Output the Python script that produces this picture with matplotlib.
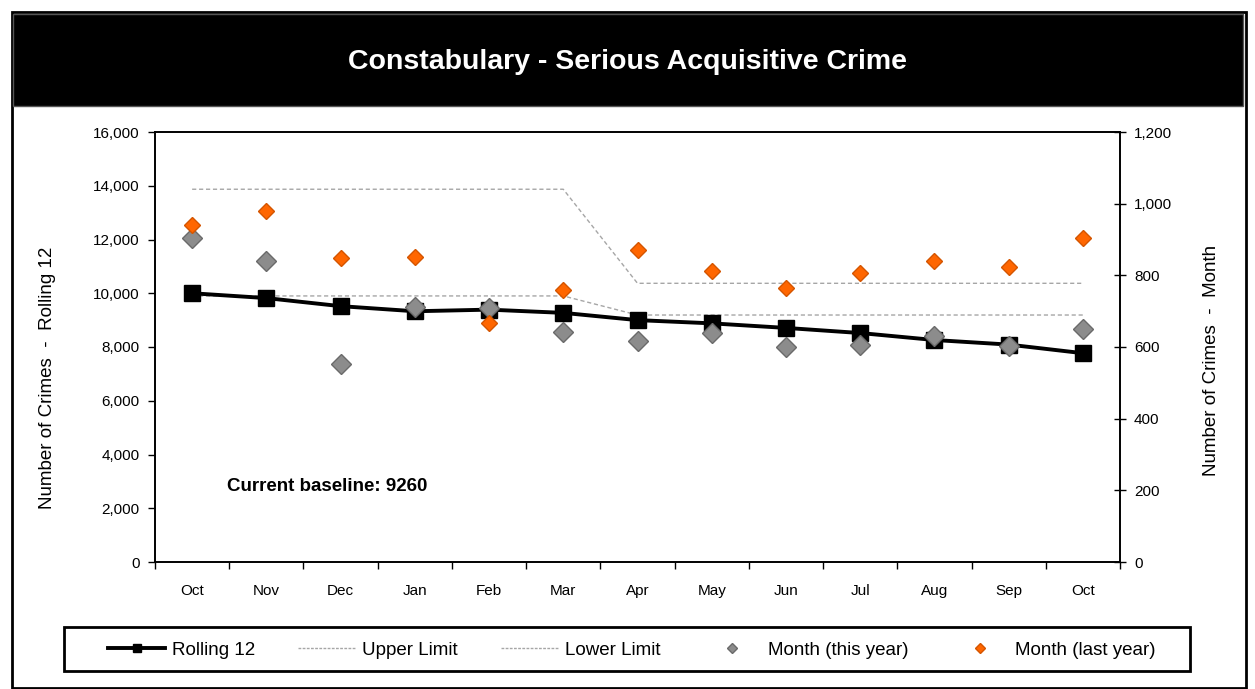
import numpy as np
import matplotlib.pyplot as plt
from matplotlib.lines import Line2D
from matplotlib.patches import Rectangle

months = ['Oct', 'Nov', 'Dec', 'Jan', 'Feb', 'Mar', 'Apr', 'May', 'Jun', 'Jul', 'Aug', 'Sep', 'Oct']
rolling12 = [10000, 9820, 9520, 9330, 9390, 9270, 9000, 8880, 8710, 8520, 8260, 8090, 7770]
upper_limit = [13870, 13870, 13870, 13870, 13870, 13870, 10370, 10370, 10370, 10370, 10370, 10370, 10370]
lower_limit = [9900, 9900, 9900, 9900, 9900, 9900, 9190, 9190, 9190, 9190, 9190, 9190, 9190]
month_this_year = [903, 841, 552, 712, 708, 641, 617, 640, 601, 606, 631, 603, 649]
month_last_year = [940, 980, 847, 852, 666, 759, 871, 812, 764, 806, 841, 822, 903]
baseline = 9260

W, H = 1255, 689
plt.rcParams['font.family'] = ['Liberation Sans', 'DejaVu Sans']

fig = plt.figure(figsize=(W / 100, H / 100), dpi=100)

# outer frame, black title band, legend box
fig.patches.append(Rectangle((12 / W, 1 - 688 / H), 1234 / W, 676 / H, transform=fig.transFigure,
                             fill=False, edgecolor='black', linewidth=2))
fig.patches.append(Rectangle((13 / W, 1 - 106 / H), 1230 / W, 92 / H, transform=fig.transFigure,
                             facecolor='black', edgecolor='#555555', linewidth=1))
fig.patches.append(Rectangle((64 / W, 1 - 671 / H), 1126 / W, 44 / H, transform=fig.transFigure,
                             fill=False, edgecolor='black', linewidth=2))
fig.text(627 / W, 1 - 62 / H, 'Constabulary - Serious Acquisitive Crime', color='white',
         fontsize=20.5, fontweight='bold', ha='center', va='center')

ax = fig.add_axes([155 / W, 1 - 562 / H, 965 / W, 430 / H])
ax2 = ax.twinx()
x = np.arange(len(months))

ax.plot(x, upper_limit, color='#a6a6a6', linewidth=1, dashes=(3, 2), zorder=2)
ax.plot(x, lower_limit, color='#a6a6a6', linewidth=1, dashes=(3, 2), zorder=2)
ax.plot(x, rolling12, color='black', linewidth=2.8, marker='s', markersize=11, zorder=3)

ax2.plot(x, month_this_year, linestyle='none', marker='D', markersize=10,
         markerfacecolor='#8c8c8c', markeredgecolor='#6a6a6a', zorder=4)
ax2.plot(x, month_last_year, linestyle='none', marker='D', markersize=8,
         markerfacecolor='#ff6600', markeredgecolor='#d45500', zorder=4)

ax.set_xlim(-0.5, len(months) - 0.5)
ax.set_ylim(0, 16000)
ax2.set_ylim(0, 1200)
ax.set_yticks(np.arange(0, 16001, 2000))
ax.set_yticklabels([f'{v:,}' for v in range(0, 16001, 2000)])
ax2.set_yticks(np.arange(0, 1201, 200))
ax2.set_yticklabels([f'{v:,}' for v in range(0, 1201, 200)])
ax.set_xticks(x)
ax.set_xticklabels(months)
ax.set_xticks(np.arange(-0.5, len(months)), minor=True)
ax.tick_params(axis='x', which='major', length=0, pad=16, labelsize=11)
ax.tick_params(axis='x', which='minor', length=5, width=1)
ax.tick_params(axis='y', length=5, width=1, labelsize=11, pad=6)
ax2.tick_params(axis='y', length=8, width=1, direction='inout', labelsize=11, pad=6)
for a in (ax, ax2):
    for s in a.spines.values():
        s.set_linewidth(1.2)

fig.text(48 / W, 1 - 378 / H, 'Number of Crimes  -  Rolling 12', rotation=90,
         ha='center', va='center', fontsize=13.5)
fig.text(1212 / W, 1 - 360 / H, 'Number of Crimes  -  Month', rotation=90,
         ha='center', va='center', fontsize=13.5)
ax.text(0.075, 0.175, f'Current baseline: {baseline}', transform=ax.transAxes,
        fontsize=13.5, fontweight='bold', va='center')

handles = [
    Line2D([], [], color='black', linewidth=2.8, marker='s', markersize=6),
    Line2D([], [], color='#a6a6a6', linewidth=1, dashes=(2, 1)),
    Line2D([], [], color='#a6a6a6', linewidth=1, dashes=(2, 1)),
    Line2D([], [], linestyle='none', marker='D', markersize=5,
           markerfacecolor='#8c8c8c', markeredgecolor='#6a6a6a'),
    Line2D([], [], linestyle='none', marker='D', markersize=5,
           markerfacecolor='#ff6600', markeredgecolor='#d45500'),
]
labels = ['Rolling 12', 'Upper Limit', 'Lower Limit', 'Month (this year)', 'Month (last year)']
leg = fig.legend(handles, labels, loc='center left', ncol=5, frameon=False,
                 bbox_to_anchor=(108 / W, 1 - 650 / H), borderaxespad=0, borderpad=0,
                 prop={'size': 13.5}, handlelength=3.04, handletextpad=0.37,
                 columnspacing=2.3)

fig.savefig('out.png', dpi=100)
